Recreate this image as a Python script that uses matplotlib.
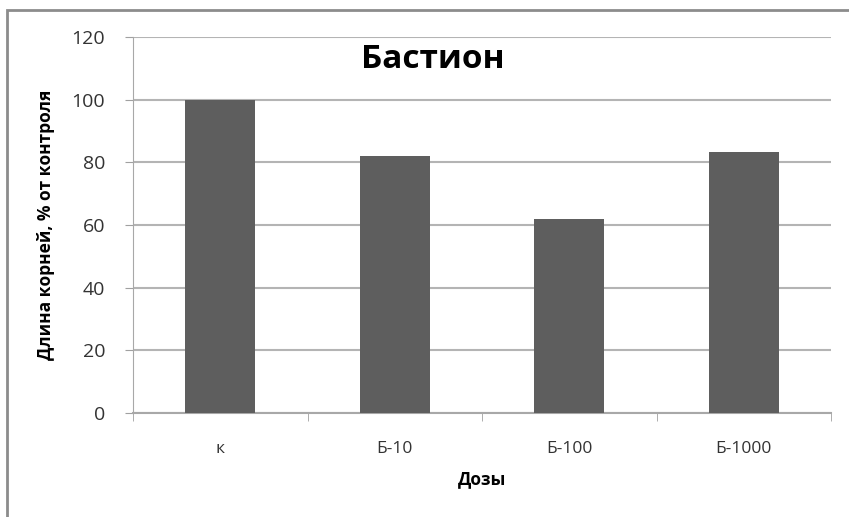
import matplotlib.pyplot as plt
from matplotlib.patches import Rectangle
import numpy as np

plt.rcParams['font.family'] = ['Open Sans', 'DejaVu Sans']

# data
doses = ['к', 'Б-10', 'Б-100', 'Б-1000']
root_len = [100, 82, 62, 83.3]

fig = plt.figure(figsize=(8.49, 5.17), dpi=100)
ax = fig.add_axes([133/849, 1 - 412.8/517, 698/849, (412.8 - 37)/517])

x = np.arange(len(doses))
ax.bar(x, root_len, width=0.4, color='#5e5e5e', zorder=3)

ax.set_xlim(-0.5, len(doses) - 0.5)
ax.set_ylim(0, 120)
ax.set_yticks(np.arange(0, 121, 20))
ax.set_xticks(x)
ax.set_xticklabels(doses)
ax.set_xticks(np.arange(-0.5, len(doses)), minor=True)
ax.tick_params(axis='x', which='major', length=0, pad=20, labelsize=12.5, labelcolor='#333333')
ax.tick_params(axis='x', which='minor', length=6, color='#a0a0a0', direction='out')
ax.tick_params(axis='y', length=6, color='#a0a0a0', pad=14, labelsize=14, labelcolor='#333333')

ax.grid(axis='y', color='#b4b4b4', linewidth=1.5, zorder=0)
for s in ['top', 'right']:
    ax.spines[s].set_visible(False)
ax.spines['left'].set_color('#a8a8a8')
ax.spines['bottom'].set_color('#a8a8a8')
ax.spines['bottom'].set_linewidth(1.5)

ax.set_xlabel('Дозы', fontsize=12.5, fontweight='bold', labelpad=10)
ax.set_ylabel('Длина корней, % от контроля', fontsize=12.5, fontweight='bold', labelpad=12)
ax.text(0.43, 0.985, 'Бастион', transform=ax.transAxes, ha='center', va='top',
        fontsize=24, fontweight='bold')

# outer frame of the chart box
fig.patches.append(Rectangle((7/849, -0.1), 1.2, 1.1 - 10/517, transform=fig.transFigure,
                             fill=False, edgecolor='#8c8c8c', linewidth=2))

fig.savefig('out.png', dpi=100)
